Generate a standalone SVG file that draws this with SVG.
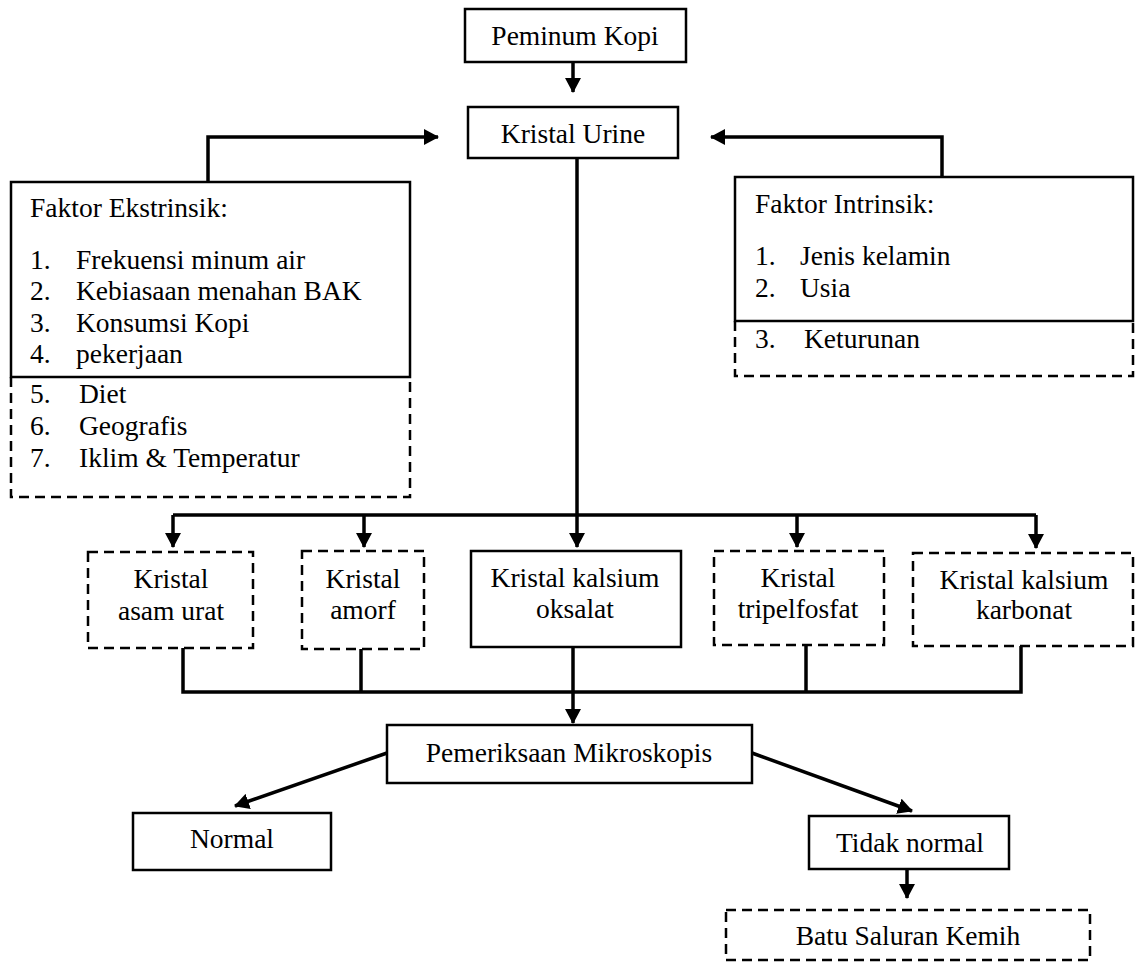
<svg xmlns="http://www.w3.org/2000/svg" width="1135" height="967" viewBox="0 0 1135 967">
<style>
text{font-family:'Liberation Serif','DejaVu Serif',serif;font-size:27.5px;fill:#000}
.c{text-anchor:middle}
.box{fill:#fff;stroke:#000;stroke-width:2.5}
.dash{fill:none;stroke:#000;stroke-width:2.5;stroke-dasharray:10 6}
.conn{fill:none;stroke:#000;stroke-width:3.5}
</style>
<defs>
<marker id="ah" markerUnits="userSpaceOnUse" markerWidth="16" markerHeight="16" refX="14" refY="8" orient="auto">
<path d="M0,0 L15,8 L0,16 Z" fill="#000"/>
</marker>
</defs>
<rect width="1135" height="967" fill="#fff"/>
<g id="connectors">
<path class="conn" d="M573,62 V92" marker-end="url(#ah)"/>
<path class="conn" d="M208,182 V137 H438" marker-end="url(#ah)"/>
<path class="conn" d="M942,177 V137 H711" marker-end="url(#ah)"/>
<path class="conn" d="M577,158 V547" marker-end="url(#ah)"/>
<path class="conn" d="M173,515 H1036"/>
<path class="conn" d="M173,515 V547" marker-end="url(#ah)"/>
<path class="conn" d="M364,515 V547" marker-end="url(#ah)"/>
<path class="conn" d="M797,515 V547" marker-end="url(#ah)"/>
<path class="conn" d="M1036,515 V548" marker-end="url(#ah)"/>
<path class="conn" d="M183,648 V692 H1021 V646"/>
<path class="conn" d="M361,649 V692"/>
<path class="conn" d="M806,645 V692"/>
<path class="conn" d="M573,647 V723" marker-end="url(#ah)"/>
<path class="conn" d="M387,753 L235,806" marker-end="url(#ah)"/>
<path class="conn" d="M752,753 L912,811" marker-end="url(#ah)"/>
<path class="conn" d="M907,869 V898" marker-end="url(#ah)"/>
</g>
<g font-family="'Liberation Serif','DejaVu Serif',serif">
<g id="peminum-kopi">
<rect class="box" x="465" y="9" width="221" height="53"/>
<text class="c" x="575" y="45">Peminum Kopi</text>
</g>
<g id="kristal-urine">
<rect class="box" x="468" y="107" width="210" height="51"/>
<text class="c" x="573" y="143">Kristal Urine</text>
</g>
<g id="faktor-ekstrinsik">
<rect class="box" x="11" y="182" width="399" height="195"/>
<path class="dash" d="M11,377 V497 H410 V377"/>
<text x="30" y="217">Faktor Ekstrinsik:</text>
<text x="30" y="269">1.</text><text x="76" y="269">Frekuensi minum air</text>
<text x="30" y="300">2.</text><text x="76" y="300">Kebiasaan menahan BAK</text>
<text x="30" y="332">3.</text><text x="76" y="332">Konsumsi Kopi</text>
<text x="30" y="363">4.</text><text x="76" y="363">pekerjaan</text>
<text x="30" y="403">5.</text><text x="79" y="403">Diet</text>
<text x="30" y="435">6.</text><text x="79" y="435">Geografis</text>
<text x="30" y="467">7.</text><text x="79" y="467">Iklim &amp; Temperatur</text>
</g>
<g id="faktor-intrinsik">
<rect class="box" x="735" y="177" width="398" height="144"/>
<path class="dash" d="M735,321 V376 H1133 V321"/>
<text x="755" y="213">Faktor Intrinsik:</text>
<text x="755" y="265">1.</text><text x="800" y="265">Jenis kelamin</text>
<text x="755" y="297">2.</text><text x="800" y="297">Usia</text>
<text x="755" y="348">3.</text><text x="804" y="348">Keturunan</text>
</g>
<g id="kristal-asam-urat">
<rect class="dash" x="88" y="552" width="165" height="96"/>
<text class="c" x="171" y="588">Kristal</text>
<text class="c" x="171" y="620">asam urat</text>
</g>
<g id="kristal-amorf">
<rect class="dash" x="302" y="551" width="122" height="98"/>
<text class="c" x="363" y="588">Kristal</text>
<text class="c" x="363" y="619">amorf</text>
</g>
<g id="kristal-kalsium-oksalat">
<rect class="box" x="471" y="551" width="210" height="96"/>
<text class="c" x="575" y="587">Kristal kalsium</text>
<text class="c" x="575" y="618">oksalat</text>
</g>
<g id="kristal-tripelfosfat">
<rect class="dash" x="714" y="551" width="170" height="94"/>
<text class="c" x="798" y="587">Kristal</text>
<text class="c" x="798" y="618">tripelfosfat</text>
</g>
<g id="kristal-kalsium-karbonat">
<rect class="dash" x="913" y="553" width="220" height="93"/>
<text class="c" x="1024" y="589">Kristal kalsium</text>
<text class="c" x="1024" y="619">karbonat</text>
</g>
<g id="pemeriksaan-mikroskopis">
<rect class="box" x="387" y="725" width="365" height="58"/>
<text class="c" x="569" y="762">Pemeriksaan Mikroskopis</text>
</g>
<g id="normal">
<rect class="box" x="133" y="813" width="198" height="57"/>
<text class="c" x="232" y="848">Normal</text>
</g>
<g id="tidak-normal">
<rect class="box" x="809" y="816" width="200" height="53"/>
<text class="c" x="910" y="852">Tidak normal</text>
</g>
<g id="batu-saluran-kemih">
<rect class="dash" x="726" y="910" width="364" height="50"/>
<text class="c" x="908" y="945">Batu Saluran Kemih</text>
</g>
</g>
</svg>
